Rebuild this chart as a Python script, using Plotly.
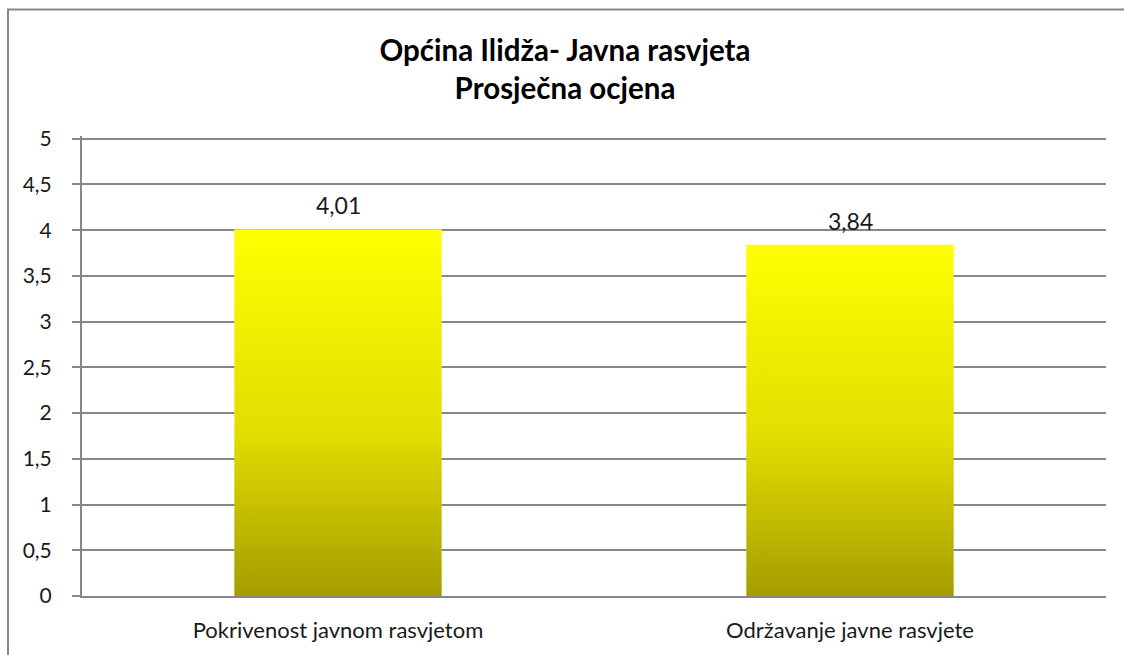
import plotly.graph_objects as go

# podaci
kategorije = ["Pokrivenost javnom rasvjetom", "Održavanje javne rasvjete"]
ocjene = [4.01, 3.84]
naslov = "<b>Općina Ilidža- Javna rasvjeta<br>Prosječna ocjena</b>"

font = "Lato, Calibri, sans-serif"
siva = "#878787"
sirina = 0.405

fig = go.Figure()

for i, (k, v) in enumerate(zip(kategorije, ocjene)):
    x0, x1 = i - sirina / 2, i + sirina / 2
    fig.add_trace(go.Scatter(
        x=[x0, x1, x1, x0, x0],
        y=[0, 0, v, v, 0],
        mode="lines",
        line=dict(width=0),
        fill="toself",
        fillgradient=dict(
            type="vertical",
            colorscale=[[0, "#a39c00"], [0.45, "#e2dd00"], [1, "#ffff00"]],
            start=0,
            stop=v,
        ),
        name=k,
        hoverinfo="skip",
        showlegend=False,
    ))

# oznake vrijednosti iznad stupaca
for i, v in enumerate(ocjene):
    fig.add_annotation(
        x=i, y=v, text=f"{v:.2f}".replace(".", ","),
        showarrow=False, yanchor="bottom", yshift=8,
        font=dict(family=font, size=23, color="#1a1a1a"),
    )

fig.update_layout(
    width=1124,
    height=655,
    margin=dict(l=82, r=18, t=136, b=57),
    paper_bgcolor="white",
    plot_bgcolor="white",
    separators=",.",
    font=dict(family=font, color="#1a1a1a"),
    title=dict(
        text=naslov,
        x=(565 - 82) / 1024, xref="paper", xanchor="center",
        y=1 - 61 / 655, yanchor="middle",
        font=dict(family=font, size=29.5, color="#000000"),
    ),
    xaxis=dict(
        range=[-0.5, 1.5],
        tickvals=list(range(len(kategorije))),
        ticktext=kategorije,
        showgrid=False,
        zeroline=False,
        showline=True,
        linecolor=siva,
        linewidth=2,
        ticks="",
        tickfont=dict(family=font, size=22, color="#1a1a1a"),
        ticklabelstandoff=14,
    ),
    yaxis=dict(
        range=[0, 5.03],
        dtick=0.5,
        tick0=0,
        showgrid=True,
        gridcolor=siva,
        gridwidth=2,
        zeroline=False,
        showline=True,
        linecolor=siva,
        linewidth=2,
        ticks="outside",
        ticklen=8,
        tickwidth=2,
        tickcolor=siva,
        tickfont=dict(family=font, size=21, color="#1a1a1a"),
        ticklabelstandoff=16,
    ),
    # okvir grafikona (desni i donji rub izvan slike)
    shapes=[dict(
        type="rect", xref="paper", yref="paper",
        x0=(8 - 82) / 1024, x1=(1300 - 82) / 1024,
        y0=-(800 - 598) / 462, y1=1 + (136 - 9) / 462,
        line=dict(color=siva, width=2),
        layer="below",
    )],
)

fig.write_html(
    "out.html",
    config={"displayModeBar": False},
    post_script="document.body.style.margin='0';",
)
